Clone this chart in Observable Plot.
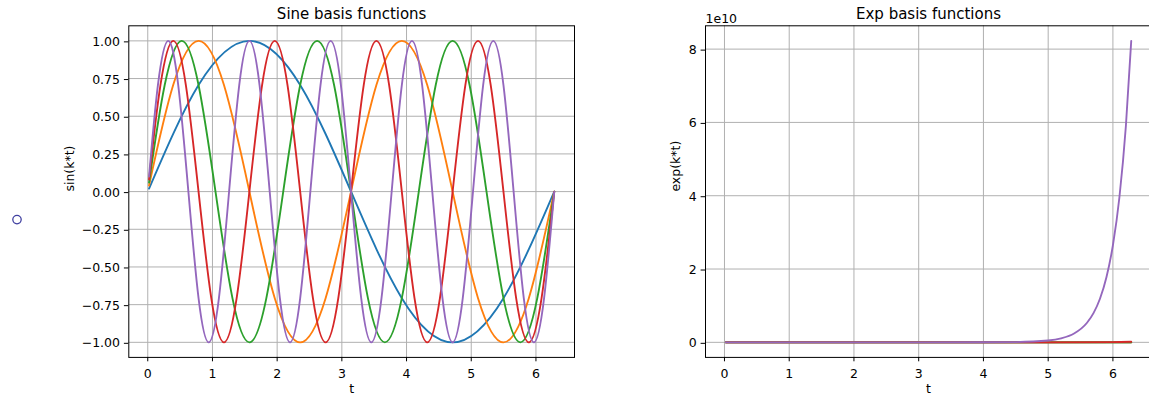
<!DOCTYPE html>
<html><head><meta charset="utf-8">
<script src="https://cdn.jsdelivr.net/npm/d3@7"></script>
<script src="https://cdn.jsdelivr.net/npm/@observablehq/plot@0.6"></script>
<style>
html,body{margin:0;padding:0;background:#fff;overflow:hidden;}
#wrap{position:relative;width:1149px;height:395px;overflow:hidden;}
#left{position:absolute;left:0;top:0;width:600px;height:395px;}
#right{position:absolute;left:600px;top:0;width:551px;height:395px;}
</style></head><body>
<div id="wrap"><div id="left"></div><div id="right"></div></div>
<script>
// ---- data ----
const titles = ["Sine basis functions", "Exp basis functions"];
const xLabel = "t";
const yLabels = ["sin(k*t)", "exp(k*t)"];
const offsetLabel = "1e10";
const tTicks = [0, 1, 2, 3, 4, 5, 6];
const sinTicks = [-1, -0.75, -0.5, -0.25, 0, 0.25, 0.5, 0.75, 1];
const expTicks = [0, 2e10, 4e10, 6e10, 8e10];
const colors = ["#1f77b4", "#ff7f0e", "#2ca02c", "#d62728", "#9467bd"];

const sinT1 = [0.02, 0.785, 1.571, 2.356, 3.142, 3.927, 4.712, 5.498, 6.283];
const sinY1 = [0.02, 0.707, 1, 0.707, 0, -0.707, -1, -0.707, 0];

const sinT2 = [0.02, 0.393, 0.785, 1.178, 1.571, 1.963, 2.356, 2.749, 3.142, 3.534, 3.927, 4.320, 4.712, 5.105, 5.498, 5.890, 6.283];
const sinY2 = [0.04, 0.707, 1, 0.707, 0, -0.707, -1, -0.707, 0, 0.707, 1, 0.707, 0, -0.707, -1, -0.707, 0];

const sinT3 = [0.02, 0.262, 0.524, 0.785, 1.047, 1.309, 1.571, 1.833, 2.094, 2.356, 2.618, 2.880, 3.142, 3.403, 3.665, 3.927, 4.189, 4.451, 4.712, 4.974, 5.236, 5.498, 5.760, 6.021, 6.283];
const sinY3 = [0.06, 0.707, 1, 0.707, 0, -0.707, -1, -0.707, 0, 0.707, 1, 0.707, 0, -0.707, -1, -0.707, 0, 0.707, 1, 0.707, 0, -0.707, -1, -0.707, 0];

const sinT4 = [0.02, 0.196, 0.393, 0.589, 0.785, 0.982, 1.178, 1.374, 1.571, 1.767, 1.963, 2.160, 2.356, 2.553, 2.749, 2.945, 3.142, 3.338, 3.534, 3.731, 3.927, 4.123, 4.320, 4.516, 4.712, 4.909, 5.105, 5.301, 5.498, 5.694, 5.890, 6.087, 6.283];
const sinY4 = [0.08, 0.707, 1, 0.707, 0, -0.707, -1, -0.707, 0, 0.707, 1, 0.707, 0, -0.707, -1, -0.707, 0, 0.707, 1, 0.707, 0, -0.707, -1, -0.707, 0, 0.707, 1, 0.707, 0, -0.707, -1, -0.707, 0];

const sinT5 = [0.02, 0.157, 0.314, 0.471, 0.628, 0.785, 0.942, 1.100, 1.257, 1.414, 1.571, 1.728, 1.885, 2.042, 2.199, 2.356, 2.513, 2.670, 2.827, 2.985, 3.142, 3.299, 3.456, 3.613, 3.770, 3.927, 4.084, 4.241, 4.398, 4.555, 4.712, 4.869, 5.027, 5.184, 5.341, 5.498, 5.655, 5.812, 5.969, 6.126, 6.283];
const sinY5 = [0.10, 0.707, 1, 0.707, 0, -0.707, -1, -0.707, 0, 0.707, 1, 0.707, 0, -0.707, -1, -0.707, 0, 0.707, 1, 0.707, 0, -0.707, -1, -0.707, 0, 0.707, 1, 0.707, 0, -0.707, -1, -0.707, 0, 0.707, 1, 0.707, 0, -0.707, -1, -0.707, 0];

const expT = [0.02, 2, 4, 5, 6, 6.283];
const exp0 = [1, 1, 1, 1, 1, 1];
const exp1 = [1.02, 7.39, 54.6, 148.4, 403.4, 535.5];
const exp2 = [1.04, 54.6, 2981, 22026, 162755, 286751];
const exp3 = [1.06, 403.4, 162755, 3269017, 65659969, 153552935];
const expT4 = [0.02, 1, 2, 3, 4, 4.5, 5, 5.2, 5.4, 5.6, 5.7, 5.8, 5.9, 6.0, 6.1, 6.2, 6.283];
const exp4 = [1.08, 54.6, 2981, 162755, 8886111, 6.566e7, 4.852e8, 1.080e9, 2.403e9, 5.347e9, 7.977e9, 1.190e10, 1.776e10, 2.649e10, 3.952e10, 5.895e10, 8.225e10];
const marker = ["○"];

// ---- build ----
const sinSeries = [[sinT1, sinY1], [sinT2, sinY2], [sinT3, sinY3], [sinT4, sinY4], [sinT5, sinY5]];
const expSeries = [[expT, exp0], [expT, exp1], [expT, exp2], [expT, exp3], [expT4, exp4]];
const rows = ([ts, vs]) => ts.map((t, i) => ({t, v: vs[i]}));

const style = {fontFamily: "'DejaVu Sans', sans-serif", fontSize: "12.5px", background: "transparent", overflow: "visible", maxWidth: "none"};
const grid = "#b0b0b0";
const xDomain = [-0.293, 6.596];
const mT = 25.3, mB = 38.1;

const left = Plot.plot({
  width: 600, height: 395,
  marginLeft: 128.3, marginRight: 26, marginTop: mT, marginBottom: mB,
  style,
  x: {domain: xDomain},
  y: {domain: [-1.1, 1.1]},
  marks: [
    Plot.ruleX(tTicks, {x: d => d, stroke: grid, strokeWidth: 1}),
    Plot.ruleY(sinTicks, {y: d => d, stroke: grid, strokeWidth: 1}),
    ...sinSeries.map((s, i) => Plot.line(rows(s), {x: "t", y: "v", stroke: colors[i], strokeWidth: 1.875, curve: "natural"})),
    Plot.frame({stroke: "black", strokeWidth: 1}),
    Plot.axisX({ticks: tTicks, tickSize: 4.4, tickPadding: 7, tickFormat: d3.format("d"), label: null}),
    Plot.axisY({ticks: sinTicks, tickSize: 4.4, tickPadding: 4.4, dy: 1, tickFormat: d3.format(".2f"), label: null}),
    Plot.text([titles[0]], {text: d => d, frameAnchor: "top", dy: -7.3, lineAnchor: "bottom", fontSize: 15}),
    Plot.text([xLabel], {text: d => d, frameAnchor: "bottom", dy: 36, lineAnchor: "bottom"}),
    Plot.text([yLabels[0]], {text: d => d, frameAnchor: "left", dx: -55.3, rotate: -90, lineAnchor: "bottom"}),
    Plot.dot(marker, {frameAnchor: "left", dx: -111.8, dy: 28, r: 4.2, stroke: "#4040a0", strokeWidth: 1.3, fill: "none"})
  ]
});
document.getElementById("left").appendChild(left);

const right = Plot.plot({
  width: 551, height: 395,
  marginLeft: 105, marginRight: 0, marginTop: mT, marginBottom: mB,
  style,
  x: {domain: xDomain},
  y: {domain: [-0.411e10, 8.636e10]},
  marks: [
    Plot.ruleX(tTicks, {x: d => d, stroke: grid, strokeWidth: 1}),
    Plot.ruleY(expTicks, {y: d => d, stroke: grid, strokeWidth: 1}),
    ...expSeries.map((s, i) => Plot.line(rows(s), {x: "t", y: "v", stroke: colors[i], strokeWidth: 1.875, curve: "monotone-x"})),
    Plot.frame({stroke: "black", strokeWidth: 1}),
    Plot.axisX({ticks: tTicks, tickSize: 4.4, tickPadding: 7, tickFormat: d3.format("d"), label: null}),
    Plot.axisY({ticks: expTicks, tickSize: 4.4, tickPadding: 4.4, dy: 1, tickFormat: d => d3.format("d")(d / 1e10), label: null}),
    Plot.text([titles[1]], {text: d => d, frameAnchor: "top", dy: -7.3, lineAnchor: "bottom", fontSize: 15}),
    Plot.text([offsetLabel], {text: d => d, frameAnchor: "top-left", textAnchor: "start", dy: -2.8, lineAnchor: "bottom"}),
    Plot.text([xLabel], {text: d => d, frameAnchor: "bottom", dy: 36, lineAnchor: "bottom"}),
    Plot.text([yLabels[1]], {text: d => d, frameAnchor: "left", dx: -26, rotate: -90, lineAnchor: "bottom"})
  ]
});
document.getElementById("right").appendChild(right);
</script></body></html>
